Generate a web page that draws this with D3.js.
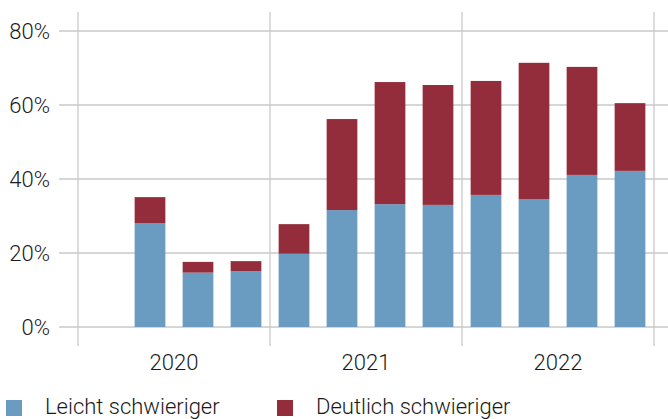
<!DOCTYPE html>
<html><head><meta charset="utf-8">
<script src="https://cdn.jsdelivr.net/npm/d3@7"></script>
<style>
html,body{margin:0;padding:0;background:#fff;}
text{font-family:Roboto,"Liberation Sans",sans-serif;font-weight:300;fill:#1a1a1a;}
</style></head><body>
<svg id="c" width="668" height="419"></svg>
<script>
const quarters = ["2020Q1","2020Q2","2020Q3","2020Q4","2021Q1","2021Q2","2021Q3","2021Q4","2022Q1","2022Q2","2022Q3","2022Q4"];
const years = ["2020","2021","2022"];
const leicht =   [null, 28.1, 14.7, 15.1, 19.8, 31.6, 33.2, 33.0, 35.7, 34.6, 41.1, 42.2];
const deutlich = [null,  7.0,  2.9,  2.7,  8.0, 24.6, 33.0, 32.4, 30.8, 36.8, 29.2, 18.3];
const yTicks = [0, 20, 40, 60, 80];
const seriesNames = ["Leicht schwieriger","Deutlich schwieriger"];
const colors = ["#6a9bc0","#932d3b"];

const svg = d3.select("#c");
const x0 = 78, x1 = 654;
const x = d3.scaleBand().domain(quarters).range([x0, x1]).paddingInner(0.36).paddingOuter(0.18);
const xYear = d3.scaleBand().domain(years).range([x0, x1]);
const y = d3.scaleLinear().domain([0, 80]).range([327, 31]);

// horizontal grid
svg.append("g").selectAll("line").data(yTicks).join("line")
  .attr("x1", 59).attr("x2", 668)
  .attr("y1", d => y(d)).attr("y2", d => y(d))
  .attr("stroke", "#c9c9cc").attr("stroke-width", 1.3);
// vertical year separators
const seps = years.map(yr => xYear(yr)).concat([xYear("2022") + xYear.bandwidth()]);
svg.append("g").selectAll("line").data(seps).join("line")
  .attr("x1", d => d).attr("x2", d => d)
  .attr("y1", 12).attr("y2", 346)
  .attr("stroke", "#c9c9cc").attr("stroke-width", 1.3);

// stacked bars
const rows = quarters.map((q, i) => ({q, a: leicht[i], b: deutlich[i]})).filter(r => r.a != null);
const g = svg.append("g");
g.selectAll(".a").data(rows).join("rect")
  .attr("x", d => x(d.q)).attr("width", x.bandwidth())
  .attr("y", d => y(d.a)).attr("height", d => y(0) - y(d.a))
  .attr("fill", colors[0]);
g.selectAll(".b").data(rows).join("rect")
  .attr("x", d => x(d.q)).attr("width", x.bandwidth())
  .attr("y", d => y(d.a + d.b)).attr("height", d => y(d.a) - y(d.a + d.b))
  .attr("fill", colors[1]);

// y labels
svg.append("g").selectAll("text").data(yTicks).join("text")
  .attr("x", 50).attr("y", d => y(d)).attr("dy", "0.36em")
  .attr("text-anchor", "end").attr("font-size", 22)
  .text(d => d + "%");

// year labels
svg.append("g").selectAll("text").data(years).join("text")
  .attr("x", d => xYear(d) + xYear.bandwidth() / 2).attr("y", 370)
  .attr("text-anchor", "middle").attr("font-size", 22)
  .text(d => d);

// legend
const legX = [6, 277], legTX = [45, 316];
const leg = svg.append("g");
seriesNames.forEach((n, i) => {
  leg.append("rect").attr("x", legX[i]).attr("y", 400).attr("width", 16).attr("height", 16).attr("fill", colors[i]);
  leg.append("text").attr("x", legTX[i]).attr("y", 414).attr("font-size", 22).text(n);
});
</script>
</body></html>
